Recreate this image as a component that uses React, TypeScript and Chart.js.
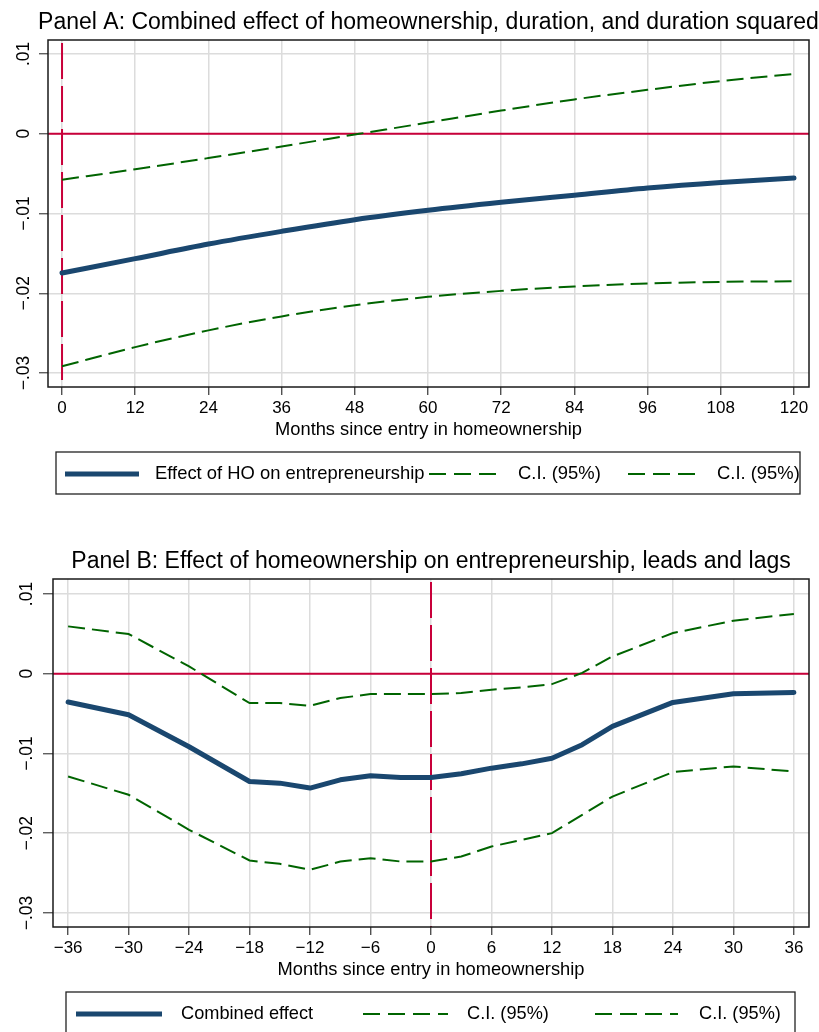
import React, { useEffect, useRef } from 'react';
import { Chart, registerables } from 'chart.js';

Chart.register(...registerables);

const FONT = '"Liberation Sans", Arial, Helvetica, sans-serif';
const BLUE = '#1a476f';
const GREEN = '#006400';
const RED = '#c8003a';

// ---------- Panel A data ----------
const titleA = 'Panel A: Combined effect of homeownership, duration, and duration squared';
const monthsA = [0, 12, 24, 36, 48, 60, 72, 84, 96, 108, 120];
const effectA = [-0.01746, -0.01566, -0.01383, -0.01224, -0.01078, -0.0096, -0.0086, -0.0077, -0.0068, -0.0061, -0.00555];
const upperA = [-0.00576, -0.00445, -0.00305, -0.0016, -0.0001, 0.0014, 0.0029, 0.0043, 0.0055, 0.0066, 0.0075];
const lowerA = [-0.02916, -0.02675, -0.02465, -0.0229, -0.0215, -0.02045, -0.0197, -0.01915, -0.01878, -0.01857, -0.0185];
const xTicksA = [0, 12, 24, 36, 48, 60, 72, 84, 96, 108, 120];
const xTickLabelsA = ['0', '12', '24', '36', '48', '60', '72', '84', '96', '108', '120'];
const seriesLabelsA = ['Effect of HO on entrepreneurship', 'C.I. (95%)', 'C.I. (95%)'];

// ---------- Panel B data ----------
const titleB = 'Panel B: Effect of homeownership on entrepreneurship, leads and lags';
const monthsB = [-36, -30, -24, -18, -15, -12, -9, -6, -3, 0, 3, 6, 9, 12, 15, 18, 24, 30, 36];
const effectB = [-0.00355, -0.00514, -0.00916, -0.01351, -0.01372, -0.01434, -0.0133, -0.0128, -0.013, -0.013, -0.01255, -0.01184, -0.0113, -0.0106, -0.0089, -0.00661, -0.0036, -0.00251, -0.00234];
const upperB = [0.00594, 0.00498, 0.00092, -0.00368, -0.00368, -0.00402, -0.00305, -0.00255, -0.00255, -0.00255, -0.00243, -0.002, -0.00171, -0.0013, 0.0001, 0.00217, 0.0051, 0.00665, 0.0075];
const lowerB = [-0.01288, -0.01518, -0.01957, -0.02342, -0.02384, -0.02459, -0.02355, -0.02313, -0.02355, -0.02355, -0.02292, -0.02167, -0.02083, -0.01999, -0.01769, -0.0154, -0.01233, -0.01163, -0.01226];
const xTicksB = [-36, -30, -24, -18, -12, -6, 0, 6, 12, 18, 24, 30, 36];
const xTickLabelsB = ['\u221236', '\u221230', '\u221224', '\u221218', '\u221212', '\u22126', '0', '6', '12', '18', '24', '30', '36'];
const seriesLabelsB = ['Combined effect', 'C.I. (95%)', 'C.I. (95%)'];

// ---------- shared axis ----------
const yTicks = [-0.03, -0.02, -0.01, 0, 0.01];
const yTickLabels = ['\u2212.03', '\u2212.02', '\u2212.01', '0', '.01'];
const xAxisTitle = 'Months since entry in homeownership';
const refX = 0;
const refY = 0;

const pts = (xs: number[], ys: number[]) => xs.map((x, i) => ({ x, y: ys[i] }));

const stataPlugin = {
  id: 'stata',
  beforeDatasetsDraw(chart: any, _args: any, opts: any) {
    const { ctx, chartArea: a, scales } = chart;
    const x0 = scales.x.getPixelForValue(opts.refX);
    const y0 = scales.y.getPixelForValue(opts.refY);
    ctx.save();
    ctx.strokeStyle = RED;
    ctx.lineWidth = 2;
    ctx.beginPath();
    ctx.moveTo(a.left, y0);
    ctx.lineTo(a.right, y0);
    ctx.stroke();
    ctx.setLineDash([36, 7]);
    ctx.beginPath();
    ctx.moveTo(x0, a.top + 3);
    ctx.lineTo(x0, a.bottom);
    ctx.stroke();
    ctx.restore();
  },
  afterDraw(chart: any, _args: any, opts: any) {
    const { ctx, chartArea: a } = chart;
    ctx.save();
    // plot frame
    ctx.strokeStyle = '#1a1a1a';
    ctx.lineWidth = 1.5;
    ctx.strokeRect(a.left, a.top, a.right - a.left, a.bottom - a.top);
    // panel title, centred on the plot region
    ctx.fillStyle = '#000';
    ctx.font = `${opts.titleSize}px ${FONT}`;
    ctx.textAlign = 'center';
    ctx.textBaseline = 'alphabetic';
    ctx.fillText(opts.title, (a.left + a.right) / 2, opts.titleBaseline);
    // legend
    const L = opts.legend;
    ctx.strokeStyle = '#222';
    ctx.lineWidth = 1.3;
    ctx.strokeRect(L.box[0], L.box[1], L.box[2] - L.box[0], L.box[3] - L.box[1]);
    L.items.forEach((it: any, i: number) => {
      ctx.save();
      if (it.kind === 'solid') {
        ctx.strokeStyle = BLUE;
        ctx.lineWidth = 5;
      } else {
        ctx.strokeStyle = GREEN;
        ctx.lineWidth = 2;
        ctx.setLineDash([17, 8]);
      }
      ctx.beginPath();
      ctx.moveTo(it.x0, L.cy);
      ctx.lineTo(it.x1, L.cy);
      ctx.stroke();
      ctx.restore();
      ctx.fillStyle = '#000';
      ctx.font = `${L.fontSize}px ${FONT}`;
      ctx.textBaseline = 'middle';
      ctx.textAlign = 'left';
      ctx.fillText(L.labels[i], it.tx, L.cy);
    });
    ctx.restore();
  },
};

function makeConfig(p: any) {
  const lineCommon = {
    pointRadius: 0,
    cubicInterpolationMode: p.smooth ? 'monotone' : 'default',
    tension: 0,
  };
  return {
    type: 'line',
    data: {
      datasets: [
        {
          ...lineCommon,
          label: p.labels[0],
          data: pts(p.months, p.effect),
          borderColor: BLUE,
          borderWidth: 5,
          borderCapStyle: 'round',
          borderJoinStyle: 'round',
        },
        {
          ...lineCommon,
          label: p.labels[1],
          data: pts(p.months, p.upper),
          borderColor: GREEN,
          borderWidth: 2,
          borderDash: [17, 7],
        },
        {
          ...lineCommon,
          label: p.labels[2],
          data: pts(p.months, p.lower),
          borderColor: GREEN,
          borderWidth: 2,
          borderDash: [17, 7],
        },
      ],
    },
    plugins: [stataPlugin],
    options: {
      animation: false,
      responsive: false,
      devicePixelRatio: 1,
      events: [],
      layout: { padding: { left: 0, right: 10, top: p.topPad, bottom: p.bottomPad } },
      scales: {
        x: {
          type: 'linear',
          min: p.xMin,
          max: p.xMax,
          afterBuildTicks: (s: any) => {
            s.ticks = p.xTicks.map((v: number) => ({ value: v }));
          },
          afterFit: (s: any) => {
            s.height = 60;
          },
          border: { display: false },
          grid: { color: '#dcdcdc', lineWidth: 1.5, drawTicks: true, tickLength: 8, tickColor: '#333', tickWidth: 1.2 },
          ticks: {
            font: { size: 17, family: FONT },
            color: '#000',
            padding: 3,
            maxRotation: 0,
            autoSkip: false,
            callback: (_v: any, i: number) => p.xTickLabels[i],
          },
          title: {
            display: true,
            text: xAxisTitle,
            font: { size: 18.3, family: FONT },
            color: '#000',
            padding: { top: 0, bottom: 6.5 },
          },
        },
        y: {
          type: 'linear',
          min: p.yMin,
          max: p.yMax,
          afterBuildTicks: (s: any) => {
            s.ticks = yTicks.map((v) => ({ value: v }));
          },
          afterFit: (s: any) => {
            s.width = p.yWidth;
          },
          border: { display: false },
          grid: { color: '#dcdcdc', lineWidth: 1.5, drawTicks: true, tickLength: p.yTickLen, tickColor: '#444', tickWidth: 1.2 },
          ticks: {
            font: { size: 17.5, family: FONT },
            color: '#000',
            padding: p.yPad,
            minRotation: 90,
            maxRotation: 90,
            crossAlign: 'center',
            autoSkip: false,
            callback: (_v: any, i: number) => yTickLabels[i],
          },
        },
      },
      plugins: {
        legend: { display: false },
        tooltip: { enabled: false },
        title: { display: false },
        stata: {
          refX,
          refY,
          legend: p.legend,
          title: p.title,
          titleSize: 23,
          titleBaseline: p.titleBaseline,
        },
      },
    },
  };
}

const panelA = {
  title: titleA,
  months: monthsA,
  effect: effectA,
  upper: upperA,
  lower: lowerA,
  labels: seriesLabelsA,
  xTicks: xTicksA,
  xTickLabels: xTickLabelsA,
  xMin: -2.3,
  xMax: 122.46,
  yMin: -0.03175,
  yMax: 0.01175,
  smooth: true,
  yWidth: 48,
  yTickLen: 9,
  yPad: -2,
  topPad: 40,
  titleBaseline: 28.5,
  bottomPad: 540 - 387 - 60,
  legend: {
    box: [56, 452, 800, 494],
    cy: 474,
    fontSize: 18.4,
    labels: seriesLabelsA,
    items: [
      { kind: 'solid', x0: 65, x1: 139, tx: 155 },
      { kind: 'dash', x0: 429, x1: 499, tx: 518 },
      { kind: 'dash', x0: 628, x1: 698, tx: 717 },
    ],
  },
};

const panelB = {
  title: titleB,
  months: monthsB,
  effect: effectB,
  upper: upperB,
  lower: lowerB,
  labels: seriesLabelsB,
  xTicks: xTicksB,
  xTickLabels: xTickLabelsB,
  xMin: -37.5,
  xMax: 37.5,
  yMin: -0.03176,
  yMax: 0.01188,
  smooth: false,
  yWidth: 53,
  yTickLen: 10,
  yPad: -1,
  topPad: 39,
  titleBaseline: 28,
  bottomPad: 492 - 387 - 60,
  legend: {
    box: [66, 452, 795, 500],
    cy: 474,
    fontSize: 18.2,
    labels: seriesLabelsB,
    items: [
      { kind: 'solid', x0: 76, x1: 162, tx: 181 },
      { kind: 'dash', x0: 363, x1: 448, tx: 467 },
      { kind: 'dash', x0: 595, x1: 678, tx: 699 },
    ],
  },
};

function Panel({ spec, height }: { spec: any; height: number }) {
  const ref = useRef<HTMLCanvasElement>(null);
  useEffect(() => {
    const chart = new Chart(ref.current as HTMLCanvasElement, makeConfig(spec) as any);
    return () => chart.destroy();
  }, []);
  return <canvas ref={ref} width={819} height={height} style={{ display: 'block', width: 819, height }} />;
}

export default function App() {
  return (
    <div style={{ position: 'absolute', left: 0, top: 0, width: 819, height: 1032, background: '#fff', overflow: 'hidden' }}>
      <Panel spec={panelA} height={540} />
      <Panel spec={panelB} height={492} />
    </div>
  );
}
